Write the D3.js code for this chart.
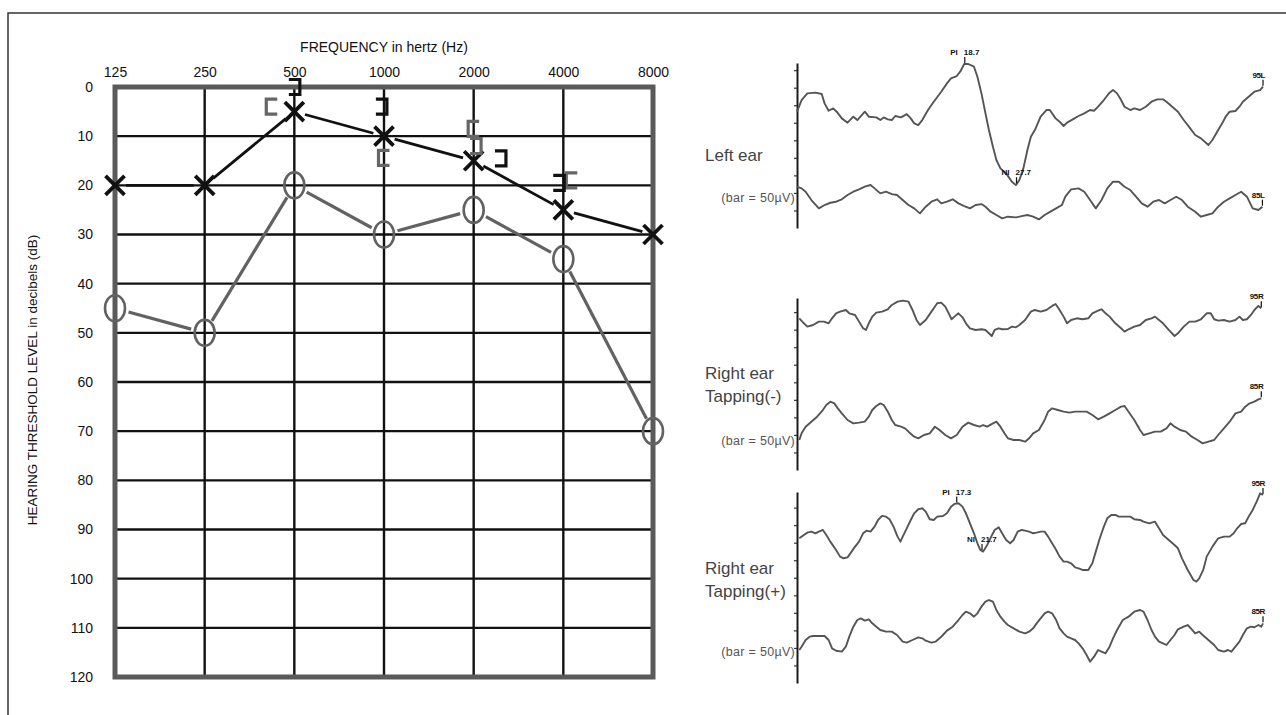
<!DOCTYPE html>
<html>
<head>
<meta charset="utf-8">
<script src="https://cdn.jsdelivr.net/npm/d3@7"></script>
<style>
  body { margin: 0; background: #fff; }
  svg { display: block; font-family: 'Liberation Sans', Arial, sans-serif; }
</style>
</head>
<body>
<svg id="chart" width="1286" height="715"></svg>
<script>
'use strict'

// audiogram (dB HL)
const freqs = [125, 250, 500, 1000, 2000, 4000, 8000]
const dbTicks = [0, 10, 20, 30, 40, 50, 60, 70, 80, 90, 100, 110, 120]
const leftAC = [20, 20, 5, 10, 15, 25, 30]
const rightAC = [45, 50, 20, 30, 25, 35, 70]

// masked bone conduction brackets, as plotted (freq where the symbol sits)
const bcEar = ['R', 'R', 'R', 'R', 'R', 'L', 'L', 'L', 'L']
const bcShape = ['[', '[', '[', ']', '[', ']', ']', ']', ']']
const bcFreq = [420, 1000, 2000, 2030, 4270, 500, 980, 2460, 3860]
const bcDb = [4, 14.4, 8.5, 12, 19, 0, 4, 14.5, 19.5]

// VEMP traces: [ms, uV]
const left95 = [[-10.5,0],[-9.7,13.3],[-8.7,20.9],[-7.3,21.7],[-6.2,20.2],[-5.7,9.5],[-5.0,1.1],[-4.2,3.8],[-3.6,0],[-2.7,-7.6],[-1.7,-12.5],[-0.7,-5.7],[0.0,-9.5],[1.3,0],[2.0,-5.7],[3.3,-6.5],[4.0,-9.5],[4.6,-6.5],[5.3,-8.7],[6.0,-9.5],[6.6,-4.9],[7.6,-6.5],[8.6,-2.7],[9.3,-7.6],[9.9,-13.3],[10.6,-15.2],[11.3,-9.5],[12.3,1.9],[13.3,11.4],[14.6,22.8],[15.6,32.3],[16.3,38.0],[17.3,40.7],[17.9,45.6],[18.6,54.4],[19.3,54.4],[20.3,51.3],[20.9,39.9],[21.6,20.9],[22.3,-1.9],[22.9,-20.9],[23.6,-39.9],[24.2,-55.1],[24.9,-64.6],[25.9,-70.3],[26.9,-79.8],[27.6,-83.7],[28.2,-77.9],[28.9,-64.6],[29.6,-43.7],[30.2,-28.5],[30.9,-20.9],[31.9,-5.7],[32.9,1.9],[33.5,1.9],[34.5,-7.6],[35.2,-11.4],[35.9,-16.3],[36.5,-12.5],[37.5,-8.7],[38.5,-4.9],[39.5,-1.9],[40.5,1.9],[41.2,1.1],[41.9,5.7],[42.9,13.3],[43.9,21.7],[44.5,24.7],[45.2,20.9],[45.9,13.3],[46.5,5.7],[47.5,1.9],[48.2,3.8],[49.2,1.9],[50.2,5.7],[51.2,11.4],[52.2,14.1],[53.2,14.1],[53.8,11.4],[54.8,5.7],[55.8,0],[56.8,-9.5],[57.8,-17.9],[58.8,-26.6],[59.8,-30.4],[61.1,-38.0],[61.8,-32.3],[62.8,-20.9],[63.5,-13.3],[64.1,-5.7],[64.8,0],[65.8,0.8],[66.5,5.7],[67.1,11.4],[68.1,17.1],[69.1,22.8],[70.1,24.7],[70.6,28.5]]
const left85 = [[-10.5,0],[-9.7,-1.9],[-9.0,-5.7],[-8.0,-15.2],[-6.7,-24.7],[-5.7,-20.9],[-4.7,-18.3],[-3.7,-17.1],[-2.7,-14.4],[-1.7,-9.5],[-0.7,-5.7],[0.3,-3.0],[1.3,0],[2.3,1.9],[3.0,-1.9],[4.0,-7.6],[5.0,-5.7],[6.0,-8.4],[6.9,-9.5],[7.9,-15.2],[8.9,-20.9],[9.9,-24.7],[10.9,-30.4],[11.9,-22.8],[12.9,-17.1],[13.9,-14.4],[14.6,-19.0],[15.6,-17.1],[16.6,-14.4],[17.6,-19.0],[18.6,-22.1],[19.6,-24.7],[20.6,-20.9],[21.6,-19.8],[22.3,-22.8],[23.2,-28.5],[24.2,-32.3],[25.2,-36.1],[26.2,-34.2],[27.6,-35.0],[28.6,-33.5],[29.6,-32.3],[30.6,-34.2],[31.6,-37.3],[32.6,-32.3],[33.6,-28.5],[34.6,-24.7],[35.6,-20.9],[36.2,-11.4],[37.2,-3.0],[38.5,-1.9],[39.5,-5.7],[40.5,-15.2],[41.5,-24.7],[42.5,-15.2],[43.5,-1.9],[44.5,5.7],[45.5,5.7],[46.5,0],[47.5,-3.8],[48.5,-11.4],[49.5,-19.0],[50.5,-22.8],[51.5,-17.1],[52.5,-15.2],[53.5,-19.0],[54.5,-15.2],[55.5,-11.4],[56.5,-15.2],[57.5,-22.8],[58.8,-28.5],[59.8,-34.2],[60.8,-32.3],[61.8,-30.4],[62.8,-22.8],[63.8,-17.1],[64.8,-13.3],[65.8,-9.5],[66.8,-5.7],[67.8,-11.4],[68.8,-24.7],[69.8,-26.6],[70.5,-22.8]]
const rightMinus95 = [[-10.1,0],[-9.3,-5.7],[-8.7,-9.5],[-7.7,-7.6],[-6.7,-3.8],[-5.8,-3.8],[-5.0,-5.7],[-4.4,0],[-3.7,5.7],[-3.0,7.6],[-2.0,9.5],[-1.4,5.7],[-0.4,3.8],[0.3,-3.8],[1.0,-11.4],[1.5,-13.3],[2.0,-5.7],[2.6,1.9],[3.3,6.5],[4.3,7.6],[5.3,10.3],[6.0,15.2],[7.0,19.0],[7.9,20.2],[8.9,19.0],[9.6,9.5],[10.3,-1.9],[10.9,-7.6],[11.9,-1.9],[12.9,7.6],[13.9,17.1],[14.6,17.9],[15.3,13.3],[15.9,5.7],[16.4,-1.1],[16.9,1.9],[17.6,5.7],[18.3,1.1],[18.9,-5.7],[19.6,-11.4],[20.6,-13.3],[21.6,-12.5],[22.3,-13.3],[22.9,-17.1],[23.4,-20.2],[23.9,-13.3],[24.6,-11.4],[25.2,-12.5],[26.2,-12.2],[26.9,-9.5],[27.6,-10.3],[28.2,-7.6],[29.2,-1.9],[30.2,7.6],[30.9,9.5],[31.9,7.6],[32.9,9.5],[33.9,14.1],[34.5,16.3],[35.2,9.5],[35.9,1.9],[36.5,-5.7],[37.2,-1.9],[38.2,0],[39.2,-1.1],[40.2,0],[40.9,5.7],[41.9,8.7],[42.5,10.3],[43.2,5.7],[43.9,1.9],[44.9,-5.7],[45.9,-11.4],[46.5,-15.2],[47.2,-12.5],[48.2,-9.5],[49.2,-7.6],[50.2,-1.9],[51.2,0],[51.8,1.9],[52.5,-1.9],[53.2,-5.7],[54.2,-13.3],[55.2,-20.2],[55.8,-17.1],[56.8,-9.5],[57.8,-3.8],[58.8,-3.8],[59.8,-1.1],[60.8,5.7],[61.5,5.7],[62.1,-1.1],[62.8,-2.7],[63.8,-1.9],[64.8,-3.8],[65.8,-1.9],[66.5,1.9],[67.1,-1.9],[67.8,-1.1],[68.5,3.8],[69.1,9.5],[69.8,14.1],[70.3,11.4]]
const rightMinus85 = [[-10.1,0],[-9.7,7.6],[-9.0,15.2],[-8.0,20.9],[-7.0,26.6],[-6.0,34.2],[-5.4,39.9],[-4.7,43.7],[-4.0,41.8],[-3.4,36.1],[-2.7,30.4],[-1.7,22.8],[-0.7,19.0],[0.3,19.8],[1.3,20.9],[2.0,26.6],[2.6,34.2],[3.3,38.8],[4.0,41.8],[4.6,39.9],[5.3,32.3],[6.0,22.8],[6.6,17.1],[7.6,15.2],[8.3,13.3],[8.9,9.5],[9.9,3.8],[10.6,1.9],[11.6,5.7],[12.6,7.6],[13.5,15.2],[14.3,11.4],[15.3,5.7],[16.3,1.9],[17.3,5.7],[18.3,15.2],[19.3,19.8],[20.3,17.1],[21.3,15.2],[21.9,17.1],[22.6,15.2],[23.6,19.0],[24.2,20.9],[24.9,15.2],[25.6,7.6],[26.2,1.9],[27.2,0],[28.2,0],[29.2,-1.9],[29.9,1.9],[30.6,7.6],[31.6,11.4],[32.6,22.8],[33.2,32.3],[33.9,36.1],[34.9,34.2],[35.9,32.3],[36.9,31.2],[37.9,32.3],[38.9,32.3],[39.9,32.3],[40.9,28.5],[41.9,23.6],[42.9,26.6],[43.9,30.4],[44.9,34.2],[45.9,38.0],[46.5,38.8],[47.2,32.3],[48.2,22.8],[49.2,11.4],[49.8,5.7],[50.8,7.6],[51.8,9.5],[52.8,9.5],[53.8,13.3],[54.5,19.0],[55.2,15.2],[56.2,11.4],[57.2,9.5],[58.2,3.8],[59.2,0],[60.1,-3.8],[61.1,-1.9],[62.1,0],[62.8,5.7],[63.8,13.3],[64.8,20.9],[65.8,30.4],[66.8,32.3],[67.5,38.0],[68.1,41.1],[69.1,43.7],[69.8,46.4],[70.3,47.5]]
const rightPlus95 = [[-10.1,0],[-9.3,3.8],[-8.7,6.5],[-8.0,7.6],[-7.3,5.7],[-6.7,7.6],[-6.0,9.5],[-5.4,3.8],[-4.7,-3.8],[-3.7,-13.3],[-3.0,-20.9],[-2.4,-22.8],[-1.7,-21.7],[-1.0,-15.2],[-0.4,-9.5],[0.3,-3.8],[1.0,5.7],[1.6,8.7],[2.3,7.6],[3.0,13.3],[3.6,20.9],[4.3,25.5],[5.0,24.7],[5.6,21.7],[6.3,13.3],[7.0,1.9],[7.5,-3.8],[7.9,1.9],[8.6,11.4],[9.3,20.9],[9.9,28.5],[10.6,33.1],[11.3,34.2],[11.9,30.4],[12.6,21.7],[13.3,20.9],[13.9,24.7],[14.9,25.5],[15.6,28.5],[16.3,36.1],[16.9,39.2],[17.6,39.9],[18.3,36.1],[18.9,28.5],[19.6,17.1],[20.3,5.7],[20.9,-5.7],[21.4,-13.3],[21.9,-15.2],[22.6,-7.6],[23.3,1.9],[23.9,9.5],[24.6,12.5],[25.2,5.7],[25.9,-1.9],[26.6,-5.7],[27.2,-1.9],[27.9,7.6],[28.6,9.5],[29.2,8.7],[29.9,7.6],[30.6,5.7],[31.2,6.5],[31.9,7.6],[32.6,7.6],[33.2,1.9],[33.9,-5.7],[34.6,-13.3],[35.2,-20.9],[35.9,-26.6],[36.5,-26.6],[37.2,-28.5],[37.9,-33.1],[38.5,-34.2],[39.2,-36.1],[40.2,-36.1],[40.9,-28.5],[41.5,-15.2],[42.2,0],[42.9,13.3],[43.5,22.8],[44.2,26.6],[44.9,26.6],[45.5,24.7],[46.5,24.7],[47.5,24.7],[48.2,21.7],[49.2,20.9],[49.8,19.0],[50.8,17.1],[51.8,19.0],[52.5,11.4],[53.2,3.8],[54.2,-1.9],[55.2,-7.6],[55.8,-11.4],[56.5,-22.8],[57.5,-36.1],[58.5,-47.5],[59.0,-49.4],[59.5,-45.6],[60.2,-36.1],[60.8,-20.9],[61.8,-9.5],[62.8,0],[63.8,1.9],[64.8,1.9],[65.5,5.7],[66.1,11.4],[66.8,16.3],[67.5,17.1],[68.1,24.7],[68.8,32.3],[69.5,41.8],[70.1,51.3],[70.6,49.4]]
const rightPlus85 = [[-10.1,0],[-9.7,3.8],[-9.0,11.4],[-8.3,15.2],[-7.7,16.0],[-6.7,16.0],[-5.7,16.0],[-5.0,11.4],[-4.4,1.9],[-3.7,-0.8],[-2.7,-1.9],[-2.0,3.8],[-1.4,15.2],[-0.7,26.6],[0.0,34.2],[0.6,36.1],[1.3,33.5],[2.0,35.0],[2.6,30.4],[3.3,26.6],[4.0,22.8],[5.0,20.9],[6.0,20.9],[6.9,17.1],[7.9,9.5],[8.6,8.4],[9.6,11.4],[10.6,14.4],[11.3,13.3],[11.9,10.6],[12.9,8.4],[13.6,9.5],[14.3,13.3],[14.9,17.1],[15.6,22.1],[16.6,26.6],[17.6,34.2],[18.3,39.9],[18.9,43.7],[19.6,41.8],[20.3,38.0],[20.9,41.8],[21.6,49.4],[22.3,55.1],[22.9,57.0],[23.6,55.1],[24.2,45.6],[24.9,38.0],[25.6,32.3],[26.2,28.5],[27.2,24.7],[28.2,20.9],[29.2,19.0],[29.9,20.9],[30.6,24.7],[31.2,30.4],[31.9,36.1],[32.6,41.8],[33.2,43.7],[33.9,41.8],[34.6,34.2],[35.2,24.7],[35.9,19.0],[36.5,15.2],[37.2,13.3],[37.9,11.4],[38.5,7.6],[39.2,1.9],[39.9,-5.7],[40.5,-13.3],[41.2,-7.6],[41.9,0],[42.5,-1.9],[43.2,-3.8],[43.9,3.8],[44.5,13.3],[45.2,22.8],[46.2,34.2],[47.2,38.0],[48.2,43.7],[49.2,45.6],[49.8,43.7],[50.5,34.2],[51.2,22.8],[51.8,15.2],[52.5,9.5],[53.2,7.6],[53.8,5.7],[54.5,11.4],[55.2,17.1],[55.8,23.6],[56.8,26.6],[57.5,28.5],[58.2,23.6],[58.8,19.0],[59.5,20.9],[60.1,17.1],[61.1,11.4],[62.1,5.7],[62.8,0],[63.8,-1.9],[64.5,0],[65.1,-1.9],[65.8,3.8],[66.5,9.5],[67.1,17.1],[67.8,24.7],[68.5,26.6],[69.1,25.9],[69.8,28.5],[70.3,26.6],[70.6,30.4]]

const leftPeaks = [['PI', 18.7], ['NI', 27.7]]
const rightPlusPeaks = [['PI', 17.3], ['NI', 21.7]]

const svg = d3.select('#chart')
const grey = '#626262'

svg.append('path')
  .attr('d', 'M8,715V13H1286')
  .attr('fill', 'none').attr('stroke', '#333').attr('stroke-width', 1.5)

// ---------- audiogram ----------
const x = d3.scaleLog().base(2).domain([125, 8000]).range([115, 653])
const y = d3.scaleLinear().domain([0, 120]).range([87, 677])
const aud = svg.append('g')

aud.selectAll('.hgrid').data(dbTicks.slice(1, -1)).enter().append('line')
  .attr('x1', x(125)).attr('x2', x(8000))
  .attr('y1', d => y(d)).attr('y2', d => y(d))
  .attr('stroke', '#111').attr('stroke-width', 2.4)
aud.selectAll('.vgrid').data(freqs.slice(1, -1)).enter().append('line')
  .attr('x1', d => x(d)).attr('x2', d => x(d))
  .attr('y1', y(0)).attr('y2', y(120))
  .attr('stroke', '#111').attr('stroke-width', 2.4)
aud.append('rect')
  .attr('x', x(125)).attr('y', y(0))
  .attr('width', x(8000) - x(125)).attr('height', y(120) - y(0))
  .attr('fill', 'none').attr('stroke', '#5a5a5a').attr('stroke-width', 5)

const topAxis = aud.append('g').attr('transform', `translate(0,${y(0)})`)
  .call(d3.axisTop(x).tickValues(freqs).tickFormat(d3.format('d')).tickSize(0).tickPadding(10))
const leftAxis = aud.append('g').attr('transform', `translate(${x(125)},0)`)
  .call(d3.axisLeft(y).tickValues(dbTicks).tickSize(0).tickPadding(22))
for (const a of [topAxis, leftAxis]) {
  a.select('.domain').remove()
  a.selectAll('text').attr('font-size', 14).attr('fill', '#111')
    .attr('font-family', "'Liberation Sans', Arial, sans-serif")
}

aud.append('text').attr('x', 384).attr('y', 52).attr('text-anchor', 'middle')
  .attr('font-size', 14).attr('fill', '#111').text('FREQUENCY in hertz (Hz)')
aud.append('text').attr('transform', 'translate(37,380) rotate(-90)')
  .attr('text-anchor', 'middle').attr('font-size', 13.5).attr('fill', '#111')
  .text('HEARING THRESHOLD LEVEL in decibels (dB)')

const gapLines = (vals, color, width, gap) => {
  const pts = freqs.map((f, i) => [x(f), y(vals[i])])
  aud.selectAll(null).data(d3.pairs(pts)).enter().append('line')
    .each(function ([a, b]) {
      const L = Math.hypot(b[0] - a[0], b[1] - a[1])
      const ux = (b[0] - a[0]) / L
      const uy = (b[1] - a[1]) / L
      d3.select(this)
        .attr('x1', a[0] + ux * gap).attr('y1', a[1] + uy * gap)
        .attr('x2', b[0] - ux * gap).attr('y2', b[1] - uy * gap)
    })
    .attr('stroke', color).attr('stroke-width', width)
}
gapLines(rightAC, grey, 3.2, 14)
gapLines(leftAC, '#111', 2.8, 11)

aud.selectAll('.oMark').data(rightAC).enter().append('ellipse')
  .attr('cx', (d, i) => x(freqs[i])).attr('cy', d => y(d))
  .attr('rx', 10).attr('ry', 13)
  .attr('fill', 'none').attr('stroke', grey).attr('stroke-width', 2.6)
aud.selectAll('.xMark').data(leftAC).enter().append('path')
  .attr('transform', (d, i) => `translate(${x(freqs[i])},${y(d)})`)
  .attr('d', 'M-9.5,-9.5L9.5,9.5M-9.5,9.5L9.5,-9.5')
  .attr('stroke', '#111').attr('stroke-width', 3.8)

const bw = 11
const bh = 15
aud.selectAll('.bracket').data(bcDb).enter().append('path')
  .attr('transform', (d, i) => `translate(${x(bcFreq[i])},${y(d)})`)
  .attr('d', (d, i) => bcShape[i] === '['
    ? `M${bw / 2},${-bh / 2}H${-bw / 2}V${bh / 2}H${bw / 2}`
    : `M${-bw / 2},${-bh / 2}H${bw / 2}V${bh / 2}H${-bw / 2}`)
  .attr('fill', 'none')
  .attr('stroke', (d, i) => bcEar[i] === 'R' ? '#666' : '#111')
  .attr('stroke-width', 3.2)

// ---------- VEMP traces ----------
const tx = d3.scaleLinear().domain([-10.5, 70.6]).range([797, 1263])
const uvPx = 0.877
const line = d3.line().x(d => tx(d[0]))

const panels = [
  {
    top: 63, bottom: 228, text: ['Left ear'], textY: [161], barY: 202,
    traces: [[left95, 111.7, '95L'], [left85, 186.7, '85L']], peaks: leftPeaks
  },
  {
    top: 298, bottom: 470, text: ['Right ear', 'Tapping(-)'], textY: [379, 402], barY: 445,
    traces: [[rightMinus95, 318.3, '95R'], [rightMinus85, 440, '85R']], peaks: []
  },
  {
    top: 492, bottom: 683, text: ['Right ear', 'Tapping(+)'], textY: [574, 597], barY: 656,
    traces: [[rightPlus95, 538.3, '95R'], [rightPlus85, 650, '85R']], peaks: rightPlusPeaks
  }
]

const vemp = svg.append('g')
const valueAt = (data, t) => {
  const i = d3.bisector(d => d[0]).left(data, t)
  const a = data[Math.max(0, i - 1)]
  const b = data[Math.min(data.length - 1, i)]
  if (a === b) return a[1]
  return a[1] + (b[1] - a[1]) * (t - a[0]) / (b[0] - a[0])
}
const marker = (g, px, py, name, num) => {
  g.append('line').attr('x1', px).attr('x2', px).attr('y1', py - 7).attr('y2', py - 1)
    .attr('stroke', '#111').attr('stroke-width', 1.2)
  if (num) {
    g.append('text').attr('x', px - 1).attr('y', py - 9).attr('font-size', 8)
      .attr('font-weight', 'bold').attr('fill', '#111').text(num)
    g.append('text').attr('x', px - 7).attr('y', py - 9).attr('font-size', 8)
      .attr('text-anchor', 'end').attr('font-weight', 'bold').attr('fill', '#111').text(name)
  } else {
    g.append('text').attr('x', px + 2).attr('y', py - 9).attr('font-size', 8)
      .attr('text-anchor', 'end').attr('font-weight', 'bold').attr('fill', '#111')
      .attr('letter-spacing', -0.4).text(name)
  }
}

panels.forEach(p => {
  const g = vemp.append('g')
  const amp = d3.scaleLinear().domain([0, (p.bottom - p.top) / uvPx]).range([p.bottom, p.top])
  const bar = g.append('g').attr('transform', `translate(${tx(-10.5)},0)`)
    .call(d3.axisLeft(amp).tickValues(d3.range(20, (p.bottom - p.top) / uvPx, 20))
      .tickSize(3).tickSizeOuter(0).tickFormat(''))
  bar.select('.domain').attr('stroke', '#1a1a1a').attr('stroke-width', 2)
  bar.selectAll('.tick line').attr('stroke', '#333').attr('stroke-width', 1.2)

  p.text.forEach((t, i) => {
    g.append('text').attr('x', 705).attr('y', p.textY[i]).attr('font-size', 17)
      .attr('fill', '#444').text(t)
  })
  g.append('text').attr('x', 795).attr('y', p.barY).attr('text-anchor', 'end')
    .attr('font-size', 12.5).attr('letter-spacing', 0.3)
    .attr('fill', '#555').text('(bar = 50\u00b5V)')

  p.traces.forEach(([data, base, name]) => {
    const yv = v => base - v * uvPx
    g.append('path').datum(data)
      .attr('d', line.y(d => yv(d[1])))
      .attr('fill', 'none').attr('stroke', '#555').attr('stroke-width', 1.9)
      .attr('stroke-linejoin', 'round')
    const last = data[data.length - 1]
    marker(g, tx(last[0]), yv(last[1]), name)
  })

  const [peakData, peakBase] = p.traces[0]
  p.peaks.forEach(([name, t]) => {
    marker(g, tx(t), peakBase - valueAt(peakData, t) * uvPx, name, String(t))
  })
})
</script>
</body>
</html>
